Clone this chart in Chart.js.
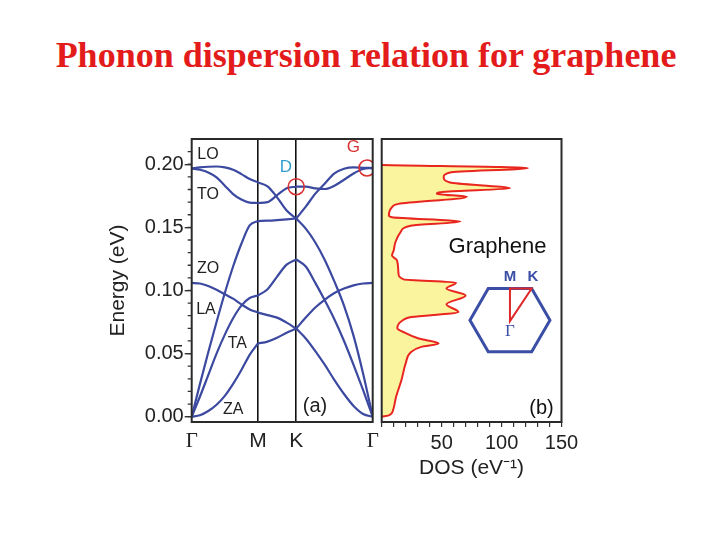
<!DOCTYPE html>
<html><head><meta charset="utf-8">
<script src="https://cdn.jsdelivr.net/npm/chart.js@4/dist/chart.umd.min.js"></script>
<style>
html,body{margin:0;padding:0;background:#fff;}
#wrap{position:relative;width:720px;height:540px;overflow:hidden;background:#fff;}
#title{position:absolute;left:0;top:35px;width:732px;text-align:center;font:bold 36px/41px "Liberation Serif","Times New Roman",serif;color:#e31b1b;white-space:nowrap;}
canvas{position:absolute;left:0;top:0;}
</style></head><body>
<div id="wrap">
<div id="title">Phonon dispersion relation for graphene</div>
<canvas id="cA" width="720" height="540" style="width:720px;height:540px"></canvas>
<canvas id="cB" width="720" height="540" style="width:720px;height:540px"></canvas>
</div>
<script>
// ---------- data ----------
const pathTicks = [0, 1, 1.5774, 2.7321];
const pathLabels = ['Γ', 'M', 'K', 'Γ'];
const energyTicks = [0, 0.05, 0.10, 0.15, 0.20];
const energyMinor = [0,0.01,0.02,0.03,0.04,0.05,0.06,0.07,0.08,0.09,0.10,0.11,0.12,0.13,0.14,0.15,0.16,0.17,0.18,0.19,0.20,0.21];
const dosTicks = [0,10,20,30,40,50,60,70,80,90,100,110,120,130,140,150];

// k-path sample positions (Γ=0, M=1, K=1.5774, Γ=2.7321)
const xGM = [0, 0.125, 0.25, 0.375, 0.5, 0.625, 0.75, 0.875, 1];
const xMK = [1, 1.1443, 1.2887, 1.4330, 1.5774];
const xKG = [1.5774, 1.7217, 1.8660, 2.0104, 2.1547, 2.2991, 2.4434, 2.5877, 2.7321];

// phonon energies (eV), Γ–M
const gmLO = [0.1967, 0.1975, 0.1980, 0.1982, 0.1975, 0.1956, 0.1922, 0.1883, 0.1856];
const gmTO = [0.1967, 0.1956, 0.1935, 0.1896, 0.1830, 0.1764, 0.1720, 0.1696, 0.1693];
const gmLA = [0, 0.026, 0.051, 0.075, 0.098, 0.119, 0.137, 0.1515, 0.155];
const gmZO = [0.106, 0.1055, 0.1035, 0.1005, 0.097, 0.0935, 0.089, 0.085, 0.0825];
const gmTA = [0, 0.016, 0.033, 0.050, 0.065, 0.078, 0.088, 0.094, 0.096];
const gmZA = [0, 0.0012, 0.0045, 0.0095, 0.0165, 0.026, 0.037, 0.049, 0.058];
// M–K
const mk1 = [0.1856, 0.1825, 0.1738, 0.1633, 0.157];
const mk2 = [0.1693, 0.1700, 0.1755, 0.1810, 0.1822];
const mk3 = [0.155, 0.1553, 0.1558, 0.1564, 0.157];
const mk4 = [0.096, 0.101, 0.111, 0.1205, 0.1246];
const mk5 = [0.0825, 0.0805, 0.0785, 0.0745, 0.0698];
const mk6 = [0.058, 0.0595, 0.0625, 0.0665, 0.0698];
// K–Γ
const kg1 = [0.157, 0.1664, 0.1767, 0.1848, 0.1927, 0.1964, 0.1975, 0.1972, 0.197];
const kg2 = [0.1822, 0.1822, 0.1809, 0.1804, 0.1830, 0.1877, 0.1927, 0.1962, 0.197];
const kg3 = [0.157, 0.149, 0.138, 0.124, 0.107, 0.088, 0.064, 0.034, 0];
const kg4 = [0.1246, 0.119, 0.106, 0.092, 0.077, 0.060, 0.041, 0.021, 0];
const kg5 = [0.0698, 0.0785, 0.0865, 0.0928, 0.098, 0.1015, 0.104, 0.1055, 0.106];
const kg6 = [0.0698, 0.062, 0.052, 0.041, 0.029, 0.018, 0.0085, 0.0022, 0];

// marked points D and G (k-position, energy)
const markX = [1.5774, 2.646];
const markE = [0.1822, 0.197];

// phonon density of states
const dosEnergy = [0.0000,0.0013,0.0053,0.0158,0.0290,0.0422,0.0513,0.0553,0.0580,0.0619,0.0671,0.0700,0.0760,0.0790,0.0829,0.0890,0.0961,0.1015,0.1062,0.1088,0.1133,0.1238,0.1277,0.1317,0.1382,0.1461,0.1514,0.1546,0.1580,0.1593,0.1659,0.1686,0.1743,0.1765,0.1783,0.1809,0.1856,0.1896,0.1935,0.1970,0.1995];
const dosValue  = [0,6.5,9.5,12,16.5,20,24.5,33,47.5,30.8,18,13,17,25,64,54,70,54,62,18.3,14,12.8,8.6,10,11.4,15.6,25,65.6,8.6,6,8.6,14,71,46,53,107,57,51.7,57,122,0];

// ---------- styling ----------
const SANS = '"Liberation Sans", Arial, Helvetica, sans-serif';
const SERIF = '"Liberation Serif", "Times New Roman", serif';
const BLUE = '#3c49a0';
const TXT = '#222';

const segments = [
  [xGM, gmLO], [xGM, gmTO], [xGM, gmLA], [xGM, gmZO], [xGM, gmTA], [xGM, gmZA],
  [xMK, mk1], [xMK, mk2], [xMK, mk3], [xMK, mk4], [xMK, mk5], [xMK, mk6],
  [xKG, kg1], [xKG, kg2], [xKG, kg3], [xKG, kg4], [xKG, kg5], [xKG, kg6]
];

const framePlugin = {
  id: 'frame',
  afterDatasetsDraw(chart) {
    const {ctx, chartArea: a} = chart;
    ctx.save();
    ctx.strokeStyle = '#2a2a2a';
    ctx.lineWidth = 2;
    ctx.strokeRect(a.left, a.top, a.right - a.left, a.bottom - a.top);
    ctx.restore();
  }
};

const minorPlugin = {
  id: 'minorTicks',
  afterDraw(chart) {
    const {ctx, chartArea: a} = chart;
    const y = chart.scales.y;
    ctx.save();
    ctx.strokeStyle = '#333';
    ctx.lineWidth = 1.3;
    ctx.beginPath();
    energyMinor.forEach(v => {
      const p = y.getPixelForValue(v);
      ctx.moveTo(a.left - 4, p);
      ctx.lineTo(a.left, p);
    });
    ctx.stroke();
    ctx.restore();
  }
};

const labelsA = [
  {t: 'LO', x: 0.246, y: 0.2079, size: 16, color: TXT},
  {t: 'TO', x: 0.246, y: 0.1762, size: 16, color: TXT},
  {t: 'ZO', x: 0.246, y: 0.1170, size: 16, color: TXT},
  {t: 'LA', x: 0.216, y: 0.0845, size: 16, color: TXT},
  {t: 'TA', x: 0.688, y: 0.0582, size: 16, color: TXT},
  {t: 'ZA', x: 0.628, y: 0.0053, size: 16, color: TXT},
  {t: '(a)', x: 1.861, y: 0.0079, size: 20, color: TXT},
  {t: 'D', x: 1.423, y: 0.1973, size: 17, color: '#2e9fd0'},
  {t: 'G', x: 2.439, y: 0.2132, size: 17, color: '#d93030'}
];

const textPluginA = {
  id: 'textA',
  afterDatasetsDraw(chart) {
    const {ctx} = chart;
    const xs = chart.scales.x, ys = chart.scales.y;
    ctx.save();
    ctx.textAlign = 'center';
    ctx.textBaseline = 'middle';
    labelsA.forEach(l => {
      ctx.font = l.size + 'px ' + SANS;
      ctx.fillStyle = l.color;
      ctx.fillText(l.t, xs.getPixelForValue(l.x), ys.getPixelForValue(l.y));
    });
    ctx.restore();
  }
};

new Chart(document.getElementById('cA'), {
  type: 'scatter',
  data: {
    datasets: [
      {
        data: markX.map((x, i) => ({x, y: markE[i]})),
        showLine: false, pointRadius: 8, pointHoverRadius: 8,
        pointBackgroundColor: 'rgba(0,0,0,0)', pointBorderColor: '#d93030',
        pointBorderWidth: 1.6, order: 0
      },
      ...segments.map(([xs, es]) => ({
        data: xs.map((x, i) => ({x, y: es[i]})),
        showLine: true, borderColor: BLUE, borderWidth: 2.2, pointRadius: 0,
        cubicInterpolationMode: 'monotone', fill: false, order: 1
      }))
    ]
  },
  options: {
    responsive: false, animation: false, events: [],
    layout: {padding: {left: 101.4, right: 347.3, top: 139, bottom: 78}},
    plugins: {legend: {display: false}, tooltip: {enabled: false}, title: {display: false}},
    scales: {
      x: {
        type: 'linear', min: 0, max: 2.7321,
        afterBuildTicks: s => { s.ticks = pathTicks.map(v => ({value: v})); },
        afterFit: s => { s.height = 40; },
        ticks: {
          autoSkip: false, maxRotation: 0, padding: 7, color: TXT,
          callback: (v, i) => pathLabels[i],
          font: ctx => ({family: pathLabels[ctx.index] === 'Γ' ? SERIF : SANS, size: 21})
        },
        grid: {
          drawTicks: false, lineWidth: 1.6,
          color: ctx => (ctx.index === 1 || ctx.index === 2) ? '#111' : 'rgba(0,0,0,0)'
        },
        border: {display: false}
      },
      y: {
        type: 'linear', min: -0.0042, max: 0.22,
        afterBuildTicks: s => { s.ticks = energyTicks.map(v => ({value: v})); },
        afterFit: s => { s.width = 90.3; },
        ticks: {padding: 1, color: TXT, font: {family: SANS, size: 20}, callback: v => Number(v).toFixed(2)},
        grid: {drawOnChartArea: false, tickLength: 7, color: '#333', lineWidth: 1.4},
        border: {display: false},
        title: {display: true, text: 'Energy (eV)', color: TXT, font: {family: SANS, size: 21}}
      }
    }
  },
  plugins: [framePlugin, minorPlugin, textPluginA]
});

// ---------- DOS panel ----------
const insetB = {cx: 107, cy: 0.0765};
const textPluginB = {
  id: 'textB',
  afterDatasetsDraw(chart) {
    const {ctx} = chart;
    const xs = chart.scales.x, ys = chart.scales.y;
    ctx.save();
    ctx.textAlign = 'center';
    ctx.textBaseline = 'middle';
    ctx.fillStyle = '#111';
    ctx.font = '22px ' + SANS;
    ctx.fillText('Graphene', xs.getPixelForValue(96.6), ys.getPixelForValue(0.1345));
    ctx.font = '20px ' + SANS;
    ctx.fillText('(b)', xs.getPixelForValue(133.3), ys.getPixelForValue(0.0069));
    // Brillouin zone inset
    const cx = xs.getPixelForValue(insetB.cx), cy = ys.getPixelForValue(insetB.cy);
    const hex = [[-40, 0], [-21.7, -31.7], [21.7, -31.7], [40, 0], [21.7, 31.7], [-21.7, 31.7]];
    ctx.strokeStyle = '#3b4ea6';
    ctx.lineWidth = 3;
    ctx.lineJoin = 'miter';
    ctx.beginPath();
    hex.forEach(([dx, dy], i) => i ? ctx.lineTo(cx + dx, cy + dy) : ctx.moveTo(cx + dx, cy + dy));
    ctx.closePath();
    ctx.stroke();
    ctx.strokeStyle = '#e0282a';
    ctx.lineWidth = 2;
    ctx.beginPath();
    ctx.moveTo(cx, cy + 1);
    ctx.lineTo(cx, cy - 31.7);
    ctx.lineTo(cx + 21.7, cy - 31.7);
    ctx.closePath();
    ctx.stroke();
    ctx.fillStyle = '#3b4ea6';
    ctx.font = 'bold 15px ' + SANS;
    ctx.fillText('M', cx, cy - 43.5);
    ctx.fillText('K', cx + 23, cy - 43.5);
    ctx.font = '17px ' + SERIF;
    ctx.fillText('Γ', cx, cy + 11);
    ctx.restore();
  }
};

new Chart(document.getElementById('cB'), {
  type: 'line',
  data: {
    datasets: [{
      data: dosEnergy.map((e, i) => ({x: dosValue[i], y: e})),
      borderColor: '#e8261f', borderWidth: 2, pointRadius: 0,
      fill: 'origin', backgroundColor: '#fbf49e',
      cubicInterpolationMode: 'monotone'
    }]
  },
  options: {
    indexAxis: 'y',
    responsive: false, animation: false, events: [],
    layout: {padding: {left: 381.7, right: 158.5, top: 139, bottom: 55.4}},
    plugins: {legend: {display: false}, tooltip: {enabled: false}},
    scales: {
      x: {
        type: 'linear', position: 'bottom', min: 0, max: 150,
        afterBuildTicks: s => { s.ticks = dosTicks.map(v => ({value: v})); },
        afterFit: s => { s.height = 62.6; },
        ticks: {
          autoSkip: false, maxRotation: 0, padding: 4, color: TXT,
          font: {family: SANS, size: 20},
          callback: v => (v > 0 && v % 50 === 0) ? String(v) : ''
        },
        grid: {drawOnChartArea: false, tickLength: 5, color: '#333', lineWidth: 1.2},
        border: {display: false},
        title: {display: true, text: 'DOS (eV⁻¹)', color: TXT, font: {family: SANS, size: 21}}
      },
      y: {type: 'linear', min: -0.0042, max: 0.22, display: false}
    }
  },
  plugins: [framePlugin, textPluginB]
});
</script>
</body></html>
